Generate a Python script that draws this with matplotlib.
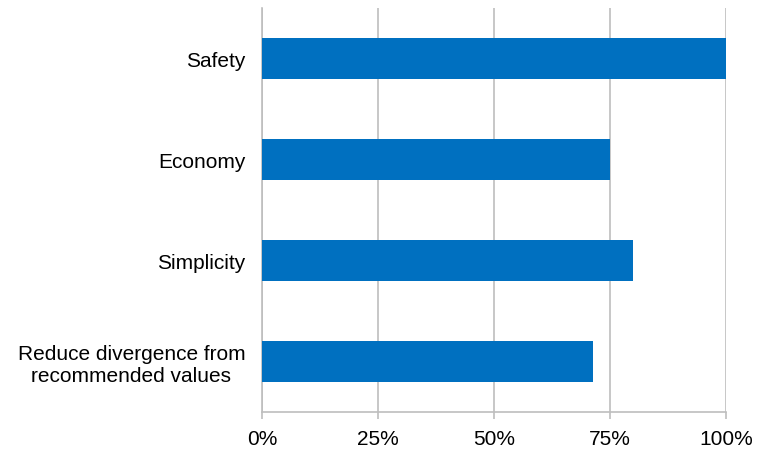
import matplotlib.pyplot as plt
from matplotlib.ticker import FuncFormatter

# 데이터
categories = ['Safety', 'Economy', 'Simplicity',
              'Reduce divergence from\nrecommended values']
values = [100, 75, 80, 71.4]
xticks = [0, 25, 50, 75, 100]

plt.rcParams['font.family'] = ['Liberation Sans', 'DejaVu Sans']

fig = plt.figure(figsize=(7.57, 4.52), dpi=100)
ax = fig.add_axes([0.346, 0.0863, 0.613, 0.894])

pos = list(range(len(categories)))[::-1]
ax.barh(pos, values, height=0.4, color='#0070C0', zorder=3)

ax.set_xlim(0, 100)
ax.set_ylim(-0.5, len(categories) - 0.5)
ax.set_xticks(xticks)
ax.xaxis.set_major_formatter(FuncFormatter(lambda v, p: f'{v:.0f}%'))
ax.set_yticks(pos)
ax.set_yticklabels(categories, fontsize=15, linespacing=1.2,
                   multialignment='center')

# 격자와 테두리
ax.grid(True, axis='x', color='#BEBEBE', linewidth=1.2, zorder=0)
for side in ['top', 'right']:
    ax.spines[side].set_visible(False)
for side in ['left', 'bottom']:
    ax.spines[side].set_color('#BEBEBE')
    ax.spines[side].set_linewidth(1.2)

ax.tick_params(axis='x', length=5, color='#BEBEBE', width=1.2, labelsize=15, pad=7)
ax.tick_params(axis='y', length=0, pad=12)

fig.savefig('out.png', dpi=100)
